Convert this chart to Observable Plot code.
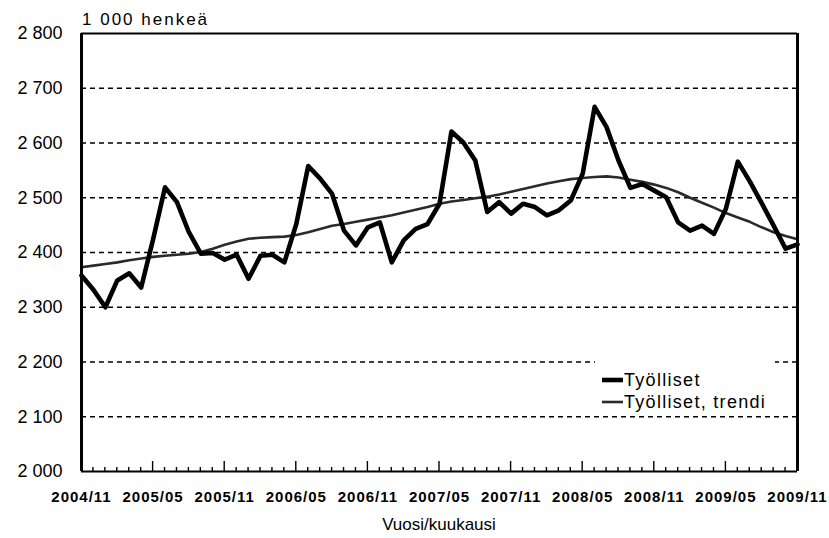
<!DOCTYPE html>
<html>
<head>
<meta charset="utf-8">
<script src="https://cdn.jsdelivr.net/npm/d3@7"></script>
<script src="https://cdn.jsdelivr.net/npm/@observablehq/plot@0.6"></script>
<style>
  html, body { margin: 0; padding: 0; background: #fff; }
  #chart svg { font-family: "Liberation Sans", Arial, sans-serif; }
  g[aria-label="x-axis tick label"] text { font-weight: bold; letter-spacing: 1px; }
</style>
</head>
<body>
<div id="chart"></div>
<script>
// Tick labels (every 6 months, index 0 = 2004/11)
const tickLabels = ["2004/11","2005/05","2005/11","2006/05","2006/11","2007/05","2007/11","2008/05","2008/11","2009/05","2009/11"];
const yTicks = [2000, 2100, 2200, 2300, 2400, 2500, 2600, 2700, 2800];
const gridTicks = [2100, 2200, 2300, 2400, 2500, 2600, 2700];

// Työlliset, monthly 2004/11 .. 2009/11 (1 000 henkeä)
const tyolliset = [
  2358, 2332, 2300, 2349, 2362, 2336, 2424, 2519, 2492, 2437,
  2398, 2399, 2387, 2396, 2352, 2394, 2396, 2382, 2452, 2558,
  2535, 2507, 2440, 2413, 2446, 2455, 2382, 2422, 2443, 2452,
  2489, 2621, 2601, 2568, 2474, 2492, 2471, 2489, 2483, 2468,
  2477, 2495, 2544, 2666, 2629, 2568, 2518, 2525, 2513, 2501,
  2455, 2440, 2449, 2434, 2480, 2566, 2530, 2490, 2449, 2407,
  2415
];

// Työlliset, trendi
const trendi = [
  2373, 2376, 2379, 2382, 2386, 2389, 2392, 2394, 2396, 2398,
  2401, 2407, 2414, 2420, 2425, 2427, 2428, 2429, 2432, 2437,
  2443, 2449, 2452, 2456, 2460, 2464, 2468, 2473, 2478, 2483,
  2489, 2493, 2496, 2499, 2502, 2506, 2511, 2516, 2521, 2526,
  2530, 2534, 2536, 2538, 2539, 2537, 2533, 2529, 2524, 2518,
  2510, 2500, 2491, 2482, 2472, 2464, 2456, 2446, 2437, 2430,
  2424
];

const nMonths = tyolliset.length; // 61
const majorIdx = tickLabels.map((_, k) => k * 6);

const chart = Plot.plot({
  width: 829,
  height: 538,
  marginLeft: 81,
  marginRight: 32,
  marginTop: 33,
  marginBottom: 67,
  style: { background: "#fff", color: "#000", overflow: "visible" },
  x: { domain: [0, nMonths - 1] },
  y: { domain: [2000, 2800] },
  marks: [
    Plot.ruleY(gridTicks, { stroke: "#000", strokeWidth: 1.6, strokeDasharray: "5,4" }),
    Plot.axisY({
      ticks: yTicks, tickSize: 0, tickPadding: 19, fontSize: 18, label: null,
      tickFormat: d => d3.format(",")(d).replace(/,/g, " ")
    }),
    Plot.axisX({
      ticks: majorIdx, tickSize: 0, tickPadding: 20, fontSize: 15, label: null,
      tickFormat: i => tickLabels[i / 6]
    }),
    Plot.line(trendi, { x: (d, i) => i, y: d => d, stroke: "#2a2a2a", strokeWidth: 2.6 }),
    Plot.line(tyolliset, { x: (d, i) => i, y: d => d, stroke: "#000", strokeWidth: 4.6, strokeLinejoin: "round" }),
    Plot.ruleY([2800], { stroke: "#000", strokeWidth: 2 }),
    Plot.ruleY([2000], { stroke: "#000", strokeWidth: 2.2 }),
    Plot.ruleX([0, nMonths - 1], { stroke: "#000", strokeWidth: 3 })
  ]
});

document.getElementById("chart").appendChild(chart);

const svg = d3.select(chart);
const xs = chart.scale("x");
const ys = chart.scale("y");
const x0 = xs.apply(0), x1 = xs.apply(nMonths - 1);
const yBottom = ys.apply(2000), yTop = ys.apply(2800);

// Inward monthly ticks on the x axis (major every 6 months)
const tg = svg.append("g").attr("stroke", "#000").attr("stroke-width", 1.4);
d3.range(nMonths).forEach(i => {
  const x = xs.apply(i);
  const len = (i % 6 === 0) ? 10 : 4;
  tg.append("line").attr("x1", x).attr("x2", x).attr("y1", yBottom).attr("y2", yBottom - len);
});

// Unit label
svg.append("text")
  .attr("x", x0 + 1).attr("y", yTop - 8)
  .attr("text-anchor", "start")
  .attr("font-size", 17).attr("letter-spacing", "2px")
  .attr("fill", "#000")
  .text("1 000 henkeä");

// x-axis title
svg.append("text")
  .attr("x", (x0 + x1) / 2).attr("y", 530)
  .attr("text-anchor", "middle")
  .attr("font-size", 17)
  .attr("fill", "#000")
  .text("Vuosi/kuukausi");

// Legend
const lg = svg.append("g").attr("text-anchor", "start");
lg.append("rect").attr("x", 595).attr("y", 356).attr("width", 180).attr("height", 56).attr("fill", "#fff");
const items = [
  { label: "Työlliset", w: 4.6, stroke: "#000", y: 380 },
  { label: "Työlliset, trendi", w: 2.6, stroke: "#2a2a2a", y: 402 }
];
items.forEach(it => {
  lg.append("line").attr("x1", 602).attr("x2", 623).attr("y1", it.y).attr("y2", it.y)
    .attr("stroke", it.stroke).attr("stroke-width", it.w);
  lg.append("text").attr("x", 624).attr("y", it.y + 6)
    .attr("text-anchor", "start")
    .attr("font-size", 18).attr("letter-spacing", "1.3px").attr("fill", "#000")
    .text(it.label);
});
</script>
</body>
</html>
